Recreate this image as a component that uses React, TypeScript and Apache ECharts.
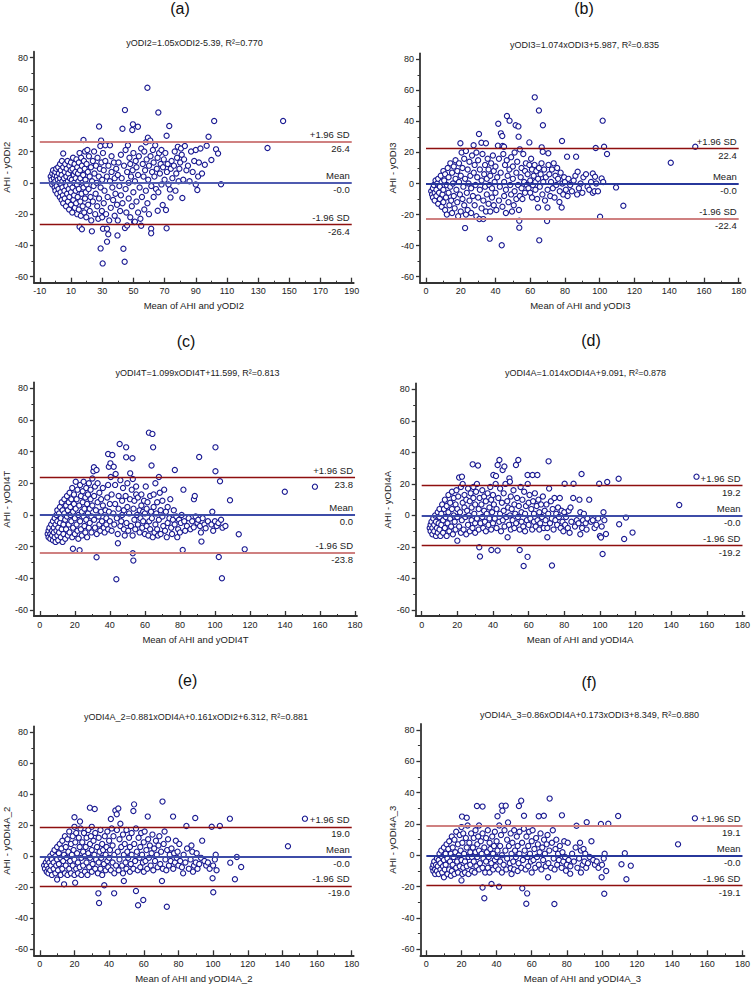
import React, { useEffect, useRef } from "react";
import * as echarts from "echarts";

// ---------------- DATA ----------------
const panelLetters = ["(a)", "(b)", "(c)", "(d)", "(e)", "(f)"];
const panelFormulas = [
  "yODI2=1.05xODI2-5.39, R²=0.770",
  "yODI3=1.074xODI3+5.987, R²=0.835",
  "yODI4T=1.099xODI4T+11.599, R²=0.813",
  "yODI4A=1.014xODI4A+9.091, R²=0.878",
  "yODI4A_2=0.881xODI4A+0.161xODI2+6.312, R²=0.881",
  "yODI4A_3=0.86xODI4A+0.173xODI3+8.349, R²=0.880",
];
const yAxisNames = ["AHI - yODI2", "AHI - yODI3", "AHI - yODI4T", "AHI - yODI4A", "AHI - yODI4A_2", "AHI - yODI4A_3"];
const xAxisNames = [
  "Mean of AHI and yODI2",
  "Mean of AHI and yODI3",
  "Mean of AHI and yODI4T",
  "Mean of AHI and yODI4A",
  "Mean of AHI and yODI4A_2",
  "Mean of AHI and yODI4A_3",
];
const meanDiffs = [-0.0, -0.0, 0.0, -0.0, -0.0, -0.0];
const meanLabels = ["-0.0", "-0.0", "0.0", "-0.0", "-0.0", "-0.0"];
const upperLimits = [26.4, 22.4, 23.8, 19.2, 19.0, 19.1];
const upperLabels = ["26.4", "22.4", "23.8", "19.2", "19.0", "19.1"];
const lowerLimits = [-26.4, -22.4, -23.8, -19.2, -19.0, -19.1];
const lowerLabels = ["-26.4", "-22.4", "-23.8", "-19.2", "-19.0", "-19.1"];

const xTicksA = [-10, 10, 30, 50, 70, 90, 110, 130, 150, 170, 190];
const xMinorA = [0, 20, 40, 60, 80, 100, 120, 140, 160, 180];
const xTicksB = [0, 20, 40, 60, 80, 100, 120, 140, 160, 180];
const xMinorB = [10, 30, 50, 70, 90, 110, 130, 150, 170];
const yTicks = [-60, -40, -20, 0, 20, 40, 60, 80];
const yMinor = [-50, -30, -10, 10, 30, 50, 70];

const pointsA = [
  [-3,4],[-2.5,2],[-2,6],[-2,-1],[-1.5,8],[-1,3],[-1,0],[-0.5,5],[-0.5,-3],[0,1],[0,7],[0,-5],
  [0.5,9],[0.8,-2],[1,4],[1.2,-7],[1.5,2],[1.8,10],[2,-4],[2.2,6],[2.5,0],[2.8,-9],[3,3],[3,12],[3.3,-6],[3.5,8],[3.8,-1],[4,-11],[4,5],[4.2,14],[4.5,-3],[4.5,1],[4.8,-8],[5,18.8],[5,10],[5,-13],
  [5.5,3],[5.8,-5],[6,7],[6,-10],[6.3,12],[6.5,0],[6.8,-15],[7,4],[7,-2],[7.2,9],[7.5,-7],[7.8,14],[8,-12],[8,1],[8.3,6],[8.5,-4],[8.8,-17],[9,11],[9,-9],[9.3,3],[9.5,-1],[9.8,8],[10,-14],[10,13],[10,-6],
  [10.5,2],[10.8,-19],[11,9],[11,-3],[11.3,16],[11.5,-11],[11.8,5],[12,-8],[12,0],[12.3,12],[12.5,-16],[12.8,7],[13,-5],[13,3],[13.3,-13],[13.5,15],[13.8,-1],[14,10],[14,-20],[14.3,-9],[14.5,6],[14.8,1],[15,-17],[15,13],[15,-4],
  [15.5,19],[15.5,-28],[15.8,8],[16,-12],[16,3],[16.3,-21],[16.5,16],[16.8,-7],[17,11],[17,-29.7],[17.3,0],[17.5,-15],[17.8,5],[18,-3],[18,27.4],[18.3,14],[18.5,-19],[18.8,9],[19,-10],[19,20],[19.3,2],[19.5,-6],[19.8,-22],[20,12],[20,-1],
  [20.5,21],[20.8,7],[21,-14],[21.3,-4],[21.5,17],[22,-18],[22,4],[22.5,-9],[22.8,10],[23,-24],[23.4,-31],[23.5,1],[24,14],[24,-12],[24.5,-2],[24.8,20],[25,6],[25.5,-20],[25.8,-7],[26,11],[26.5,0],[26.8,-15],[27,16],[27.5,-23],[27.8,4],[28,36],[28,-10],[28.5,9],[28.8,23.5],[29,-3],[29,-41.9],[29.3,27],[29.5,13],[29.8,-18],[30,-22],[30,2],[30.3,-51.5],[30.5,-29.3],[30.5,19],
  [31,8],[31,-13],[31.5,-5],[32,24],[32,14],[32.5,-20],[33,4],[33.1,-37.6],[33.1,-29.3],[33.5,-9],[33.9,-32.9],[34,11],[34.5,-24],[35,24],[35,1],[35.5,-16],[36,7],[36,17],[36.5,-3],[37,-11],[37.5,13],[38,-21],[38,3],[38.5,-7],[39,9],[39.5,-14],[39.8,-33.6],[40,5],[40,-24],
  [40.5,13],[41,-2],[41.5,-18],[42,18],[42,-8],[42.5,3],[43,34.6],[43,-13],[43.6,-42.1],[44,11],[44.4,-50.4],[44.6,-28.9],[44.6,46.5],[45,-4],[45,21],[45.5,-19],[46,-27.2],[46,7],[46.5,24],[47,0],[47,-10],[47.5,16],[48,-22],[48,12],[48.5,4],[49,-15],[49.3,33.8],[49.7,37.4],[49.5,8],[50,-6],[50,19],
  [50.5,-25],[51,-24.8],[51,1],[51.5,14],[52,-12],[52,10],[52.9,35.9],[53,-19],[53,5],[53.5,17],[54,-3],[54.5,-23],[55,22],[55,-27.4],[55.5,-9],[56,12],[56.5,4],[57,-17],[57,20],[57.5,8],[58,-5],[58,26],[58.5,15],[59,-13],[59.3,28.9],[59,60.8],[59.5,2],[60,11],[60,-20],[60.8,27],
  [61,17],[61.4,-29.3],[61.4,-32.3],[61.5,-2],[62,7],[62.5,21],[63,13],[63,-9],[63.5,4],[64,24],[64.5,-4],[65,9],[65.6,-17.8],[65.5,16],[66,45],[66,-6],[66.5,19],[67,6],[67.5,12],[68,-1],[68,21],[68.8,-14.2],[69,10],[69.5,15],[70,2],[70.5,19],[70.9,-17.4],[71.3,30.1],[71.3,-29.1],[71.5,7],[72,12],[72.5,-1],[73,36.3],[73.4,-4.2],[73.8,-9.3],[74,9],[74.5,14],[75,3],[76,11],[76.5,20],[77,-5],[77.5,6],[78,16],[78.5,23],[79,1],[79.5,9],[80,13],
  [80.5,22],[81,18],[81.4,-9.7],[82,2],[82.5,15],[83,23.5],[84,8],[85,11],[86,1],[87,20],[88,7],[89,14],[90,21],[90,-1],[91,-4.6],[91.5,4],[92,13],[93,22],[94,6],[95.8,11.6],[97,23.7],[98.2,29.5],[100,14.6],[101.8,39.5],[103,21.4],[104.3,18.8],[106.2,-0.9],
  [136,22.3],[146,39.5],
];

const pointsB = [
  [3,-5],[3.5,-7],[4,-3],[4,-9],[4.5,-1],[5,-6],[5,-11],[5.5,2],[6,-4],[6,-8],[6.5,0],[7,-13],[7,3],[7.5,-6],[8,-2],[8,-10],[8.5,5],[9,-15],[9,1],[9.5,-7],[10,8],[10,-4],[10,-12],
  [10.5,2],[11,-17],[11,6],[11.5,-9],[12,-1],[12,-20],[12.5,10],[13,-6],[13,4],[13.5,-14],[14,13],[14,-2],[14.5,-11],[15,7],[15,-19],[15.5,0],[16,-8],[16,11],[16.5,-16],[17,3],[17,15],[17.5,-4],[18,-12],[18,8],[18.5,-21],[19,1],[19,13],[19.5,-7],[19.8,25.9],[20,-18],[20,5],
  [20.5,20],[21,-10],[21,10],[21.5,-2],[22,16],[22,-14],[22.5,-28.7],[22.5,3],[23,-20],[23,21],[23.5,-6],[24,9],[24,-17],[24.5,0],[25,14],[25,-11],[25.5,5],[26,-3],[26,-19],[26.5,18],[27,-8],[27.4,24.6],[27.5,7],[28,-14],[28,12],[28.5,-1],[29,-21],[29,20],[29.5,4],[30,-9],[30,15],[30.5,31.9],[30.7,-22.9],
  [31,-4],[31,9],[31.9,26.3],[32,-16],[32,2],[32.5,19],[33,-22.9],[33,-11],[33.5,6],[34,-2],[34,12],[34.5,25.9],[34.5,-18],[35,-7],[35,3],[35.5,16],[36,-13],[36,9],[36.5,-1],[36.7,-35.5],[37,-18],[37,5],[37.5,13],[38,-9],[38,-3],[38.5,18],[39,-14],[39,8],[39.5,1],[40,-6],[40,11],
  [40.5,-17],[41,4],[41.4,24.4],[41.6,38.5],[42,-11],[42,16],[42.5,-2],[43,7],[43.1,32.3],[43.6,-39.8],[43.9,30.6],[44,-15],[44.1,24.2],[44.5,19],[44.9,23.7],[45,1],[45,-8],[45.5,12],[46,-4],[46,-19],[46.5,15],[46.6,43.5],[47,5],[47.5,-12],[48,9],[48.1,40.5],[48.5,-1],[49,-7],[49,17],[49.5,-18],[50,3],[50,11],
  [50.5,-14],[51,20],[51,-5],[51.6,37.5],[52,7],[52,-10],[52.5,14],[53,-1],[53.2,36.8],[53.3,30.2],[53.5,-17],[53.7,-23.9],[53.7,-28.4],[54,-8],[54,22],[54.5,4],[55,10],[55,-3],[55.5,-10],[56,19],[56.5,1],[57,-6],[57,8],[57.5,13],[58,-1],[58.5,6],[59,-3],[59.5,26.5],[59.5,12],[60,-6],[60,2],
  [60.5,16],[61,9],[61,-9],[61.5,-1],[62,5],[62.6,55.5],[62.5,12],[63,-4],[63,1],[63.5,8],[64,-10],[64.5,-15.4],[64.5,3],[65,47],[65,10],[65.2,-36.6],[65.5,-2],[66,6],[66.6,23.3],[66.5,13],[67,-7],[67.2,20.5],[67.3,37.5],[67.5,1],[68,9],[68.5,-11],[69,4],[69.7,-24.2],[69.9,-15.4],[70,-4],[70.4,19.5],[70.5,12],[71,6],[71.5,-8],[72,1],[72.5,9],[73,-3],[73.5,13],[74,-9],[74.5,5],[75,-1],[75.5,10],[76,3],[76.8,-11.9],[77,-5],[77.5,7],[78.1,-15.4],[78.3,27.4],[78.5,0],[79,-7],[79.5,4],[80,1],
  [80.5,-4],[81.2,17.3],[81.5,-8],[82,3],[83,-1],[84,-5],[85,2],[86,5],[86.4,17.3],[87,-7],[87.3,7.6],[88,-3],[89,0],[90,-6],[90.6,4],[92.1,6],[93,-2],[94,-4],[95,1],[96,6.5],[96,-6],[97,-5],[97.3,4.4],[97.7,22.9],[98,0],[99,-5],[100.2,-21.4],[101.1,3.3],[101.7,40.5],[102,1],[102.5,23.7],[104.2,19],[109.4,-2.5],[113.6,-14.3],[140.9,13.4],[155,23.7],
];

const pointsC = [
  [4.5,-12],[5,-10],[5,-14],[5.5,-8],[6,-12],[6,-15],[6.5,-6],[7,-10],[7,-13],[7.5,-4],[7.5,-16],[8,-8],[8,-11],[8.5,-2],[8.5,-14],[9,-6],[9,-17],[9.5,0],[9.5,-10],[10,-4],[10,-13],[10,3],
  [10.5,-8],[10.5,-16],[11,1],[11,-11],[11.5,-5],[11.5,5],[12,-14],[12,-2],[12.5,8],[12.5,-9],[13,3],[13,-17],[13.5,-6],[13.5,-12],[14,1],[14,10],[14.5,-3],[14.5,-15],[15,6],[15,-9],[15.5,12],[15.5,-1],[16,-13],[16,3],[16.5,8],[16.5,-6],[17,14],[17,-11],[17.5,0],[17.5,5],[18,-4],[18,10],[18.5,-14],[18.5,17],[19,2],[19,-8],[19.5,7],[19.5,13],[20,-2],[20,-12],[18.9,-21.3],
  [20.5,21],[20.5,4],[21,-6],[21,10],[21.5,-10],[21.5,16],[22,0],[22,-15],[22.7,-22.3],[22.5,6],[23,19],[23,-4],[23.5,12],[23.5,-9],[24,2],[24,-13],[24.5,8],[24.5,15],[25,-1],[25,21],[25.5,-7],[25.5,4],[26,11],[26,-11],[26.5,17],[26.5,-3],[27,7],[27,-14],[27.5,1],[27.5,13],[28,-8],[28,20],[28.5,4],[28.5,-5],[29,10],[29,16],[29.5,-1],[29.5,-11],[30,6],[30,23],[30.6,27.6],[30.9,30.1],
  [31,-3],[31,12],[31.5,-8],[31.5,18],[32,3],[32.4,28.4],[32.4,-26.7],[32.5,-12],[33,8],[33,20],[33.5,-1],[34,14],[34,-6],[34.5,-10],[35,2],[35,10],[35.5,-4],[36,6],[36,17],[36.5,-8],[37,-11],[37.5,3],[38,-2],[38.5,11],[38,-6],[39,-9],[39,19],[39,38.5],[39.4,30.5],[39.5,2],[40,7],[40,-4],[40.3,32.6],
  [40.5,24],[41,-10],[41,13],[41.4,37.9],[42,1],[42.2,30.5],[42.5,-6],[43,19],[43.3,25.9],[43,7],[43.7,-40.6],[44,-2],[44.6,-17.9],[44.5,-12],[45,4],[45,12],[45.6,44.8],[46,-7],[46,22],[46.5,-4],[47,9],[47,0],[47.5,17],[48,-9],[48,3],[48.5,-13],[49,12],[49.3,42.7],[49.3,36.4],[49.5,-5],[50,5],[50,20],[50.5,-10],[51,1],[51.6,26.3],[51.5,10],[52,-7],[52.5,16],[52.9,35.8],[53.1,22.7],[53.1,-24.2],[53.4,-28.8],[53,-13],[53.5,4],[54,-3],[54,9],[54.5,-9],[55,18],[55,13],[55.5,0],[56,-6],[56,11],[57,-11],[57,3],[57.5,-2],[58,6],[58,13],[58.5,-8],[59,-4],[59,2],[59.5,9],[60,-12],[60,1],
  [60.5,18],[61,-7],[61,4],[61.5,8],[62,-13],[62.3,52],[62.5,-4],[63,12],[63,-9],[63.5,2],[63.8,31.2],[64,-2],[64.3,51.2],[64.7,42.7],[64.5,-14],[65,5],[65,13],[65.5,-11],[66,-6],[66,20],[66.5,1],[67,-9],[67,8],[67.5,-13],[68,-3],[68,24],[68.5,14],[69,-12],[69,3],[70,-1],[70,9],[70.5,-7],[71,16],[71.5,-10],[72,2],[72.5,-14],[73,5],[73,-5],[74,-2],[74.5,10],[75,-8],[75.5,-12],[76,-3],[76.5,3],[77.1,28.4],[77,-6],[78,-1],[78.5,-14],[79,-9],[79.5,-3],[80,-11],
  [80.5,-5],[81,0],[81.6,-22.1],[82,16],[82.5,-4],[83,-10],[84,-7],[85,-2],[86,-9],[87,-4],[87.9,-7.8],[88,10],[88.5,12],[89,-1],[90,-5],[90.5,-3],[91,36.6],[91.5,-7],[92.3,-16.8],[92,-11],[93,-2],[94,-6],[94.7,-8.4],[96,-4],[98,-6],[98.5,2],[99,-10],[100,-4],[100.3,42.7],[100.3,27.6],[101,-7],[102,-5],[102.2,-26.5],[102.9,21.3],[103.5,-3],[104.3,-8],[104,-40],[106,-7],[108.6,9.3],[113.6,-12.2],[117,-21.7],[139.9,14.7],[157.1,17.9],
];

const pointsD = [
  [4.5,-8],[5,-6],[5,-10],[5.5,-4],[6,-8],[6,-12],[6.5,-2],[7,-6],[7,-10],[7.5,0],[8,-4],[8,-13],[8.5,-8],[9,2],[9,-11],[9.5,-5],[10,-1],[10,-9],[10,4],
  [10.5,-13],[11,1],[11,-6],[11.5,7],[12,-3],[12,-11],[12.5,4],[13,-8],[13,10],[13.5,-1],[14,-13],[14,6],[14.5,-5],[15,2],[15,13],[15.5,-10],[16,-2],[16,8],[16.5,-7],[17,15],[17,4],[17.5,-12],[18,0],[18,11],[18.5,-4],[19,7],[19,-9],[19.5,16],[20,-1],[20,-16],[20,4],
  [20.5,12],[21,-7],[21,24],[21.5,2],[22,-11],[22.6,24.6],[22,18],[22.5,-3],[23,8],[23,20],[23.5,-9],[24,5],[24,13],[24.5,-1],[25,-12],[25,10],[25.5,3],[26,-6],[26,17],[26.5,0],[27,9],[27,-10],[27.5,14],[28,-3],[28,5],[28.6,32.4],[28.5,-8],[29,18],[29,11],[29.5,1],[30,-5],[30,7],[30,-11],
  [30.5,15],[31,-2],[31,20],[31.6,31.7],[32,4],[32,-9],[32.3,-20.2],[32.7,-26.1],[32.5,11],[33,-5],[33.5,7],[34,16],[34,-1],[34.5,-8],[35,3],[35,12],[35.5,-4],[36,9],[36,-10],[36.5,1],[37,14],[37.5,-6],[38,5],[38,-2],[38.5,18],[39,-9],[39,10],[39.1,-21.9],[39.5,2],[40,-5],[40,13],[40.2,25.6],
  [40.5,7],[41,-2],[41.7,25],[41.5,20],[42,-8],[42,4],[42.6,32],[42.6,-22.3],[43,11],[43.6,35.2],[43.5,-4],[44,17],[44,1],[44.5,-10],[45,8],[45.4,28.8],[45.5,-3],[46,14],[46.4,31],[46,3],[46.5,-7],[47,20],[47.5,-1],[48,9],[48.2,-13.9],[48.5,5],[49,-6],[49.2,23.5],[49.5,21.4],[49.5,0],[50,12],[50,-9],[50.5,4],[51,-3],[51.5,16],[52,7],[52,-8],[52.9,32],[52.5,1],[53,-5],[53.5,11],[54,-1],[54.2,35.2],[54.5,6],[55,-21.9],[55,-9],[55.5,18],[56,2],[56,-4],[56.5,10],[57,-7],[57.2,-32.1],[57.5,15],[58,1],[58,-10],[58.5,6],[59,-3],[59.4,25.6],[59.4,-26.3],[59.5,20],[60,-6],[60,8],
  [60.5,13],[61,-2],[61.5,4],[62,-9],[62.2,25.6],[62.5,9],[63,-4],[63,1],[63.5,14],[64,-7],[64.5,6],[64.9,25.6],[65,-3],[65.5,10],[66,-9],[66,2],[66.5,-5],[67,7],[67.5,-1],[68,12],[68.5,-8],[69,3],[69.5,-3],[70,7],[70.5,-13.9],[70.5,-8],[71,1],[71.2,34.3],[71.5,17],[72,-5],[72.5,9],[73,-2],[73.1,-31.8],[73.5,4],[74,-9],[74.5,11],[75,-3],[75.5,1],[76,-6],[76.5,5],[77,-1],[77.5,11],[78,-8],[78.5,3],[79,-4],[79.5,-10],[80,2],
  [80.2,20.1],[80.5,-6],[81,-1],[82,-8],[82.5,3],[83,-11],[83.5,5],[84,-4],[85,11],[85.2,20.1],[86,-7],[87,-3],[88,-5],[88.5,10],[89,-12],[89,2],[89.7,26.3],[90,-8],[90.5,-3],[91,1],[92,-5],[92.5,-9],[93,-2],[94,10],[95,-4],[96,-3],[97,-8],[98,-6],[99,-2],[99.6,20.1],[100,-13],[100.6,-14],[101,-7],[101.5,-24.5],[102,2],[102.5,-3],[103.4,-11.8],[104.1,21.2],[110.5,23.3],[110.8,-5.6],[113.6,-15],[114.6,-1.4],[118.3,-10.9],[144.5,6.6],[154.2,24.6],
];

const pointsE = [
  [2.5,-6],[3,-8],[3.5,-4],[4,-10],[4,-6],[4.5,-2],[5,-8],[5,-11],[5.5,-4],[6,0],[6,-9],[6.5,-6],[7,-12],[7,-2],[7.5,2],[8,-8],[8,-4],[8.5,4],[9,-11],[9,0],[9.5,-6],[10,-15],[10,6],[10,-2],
  [10.5,-9],[11,2],[11,-5],[11.5,8],[12,-12],[12,-1],[12.5,5],[13,-8],[13,10],[13.5,-3],[14,-18.1],[14,1],[14.5,-11],[14.5,13],[15,6],[15,-6],[15.5,-1],[16,11],[16,-12],[16.5,3],[17,-8],[17,16],[17.5,-3],[18,8],[18,-11],[18.5,1],[19,13],[19,-6],[19.5,4],[20,-2],[20,-12],[20,19],[20,25.2],[20.4,-17],
  [20.5,9],[21,-8],[21,15],[21.5,2],[22,-4],[22,-11],[22.5,12],[23,6],[23.2,22.4],[23,-7],[23.5,18],[24,-1],[24,-12],[24.5,9],[25,3],[25,-6],[25.5,15],[26,-10],[26,0],[26.5,6],[27,12],[27,-4],[27.5,-12],[28,2],[28,17],[28.5,-7],[28.9,31.4],[29,8],[29,-1],[29.5,13],[30,-10],[30,4],[30,19],
  [30.5,-5],[31,10],[31.7,30.5],[31.5,1],[32,-8],[32,15],[32.5,-2],[33,6],[33.8,-23.9],[34.2,-30.1],[33.5,-11],[34,12],[34,-4],[34.5,3],[35,-8],[35,17],[35.5,-1],[36,8],[36,-12],[36.5,4],[37,-5],[37.2,-18.7],[37.5,13],[38,-9],[38,1],[38.5,6],[39,-3],[39,16],[39.5,-7],[40,10],[40,-1],
  [40.5,4],[41,24.1],[41,-9],[41.5,18],[42,-4],[42,7],[42.9,-23.9],[42.5,13],[43,-11],[43.6,29.5],[43,1],[44,-6],[44.4,27.1],[44.5,17],[45,3],[45.3,30.8],[45.5,-9],[46,11],[46,-2],[46.5,21],[47,6],[47.5,-6],[48,14],[48,-11],[48.5,-15.9],[48.5,1],[49,8],[49.5,-4],[50,17],[50,-8],[50.5,3],[51,-1],[51.5,12],[52,-10],[52,6],[52.5,-5],[53,15],[53,1],[54,29.2],[54.4,33.5],[54,-8],[54.5,8],[55,-3],[55.5,-22.4],[55.5,18],[56,3],[56.7,-31.6],[56.5,-9],[57,12],[57.5,-1],[58,6],[58,-7],[58.5,15],[59,1],[59.7,-28.2],[59.5,-4],[60,9],[60,-10],
  [60.5,16],[61,-3],[61.5,4],[62,-8],[62.3,25.6],[62.5,11],[63,-1],[63.5,7],[64,-6],[64.5,2],[65,14],[65.5,-9],[66,5],[66.5,-3],[67,10],[67.5,1],[68,-7],[68.5,7],[69,13],[69.5,-5],[70,3],[70.5,-15.9],[70.8,35.3],[71,-8],[71.5,8],[72,16],[72.5,-2],[73,-9],[73.3,-32.5],[73.5,4],[74,11],[74.5,-6],[75,1],[75.5,-3],[76,5],[76.9,25.6],[77,-8],[77.5,2],[78,-4],[78.5,10],[79,-1],[79.5,3],[80,-6],
  [80.5,8],[81,-3],[82,-7],[82.7,-11],[83,1],[84,-4],[84.6,19.6],[85,5],[86,-8],[87,-2],[87.5,7],[88.4,-9.9],[88,3],[89,-6],[89.7,24.7],[90,-4],[90.5,2],[91,-8],[92,-5],[93,-1],[93.7,10.1],[95,-3],[96,-6],[97,-4],[98,-8],[99.2,19.1],[99.7,-14.2],[100,-6],[100.1,-23.2],[101,-2],[101.5,1],[102,-9],[103.9,19.6],[109.7,24.3],[109.9,-4.1],[112.6,-14.8],[113.7,-0.4],[116.2,-6.9],[143.2,6.5],[153,24.3],
];

const pointsF = [
  [3.5,-8],[4,-6],[4,-10],[4.5,-4],[5,-9],[5,-12],[5.5,-6],[6,-2],[6,-10],[6.5,-7],[7,-12],[7,-3],[7.5,1],[8,-9],[8,-5],[8.5,3],[9,-11],[9,-1],[9.5,-7],[10,-14],[10,5],[10,-3],
  [10.5,-9],[11,1],[11,-6],[11.5,7],[12,-12],[12,-2],[12.5,4],[13,-9],[13,9],[13.5,-4],[14,-13],[14,1],[14.5,-10],[14.5,12],[15,5],[15,-6],[15.5,-1],[16,10],[16,-12],[16.5,2],[17,-8],[17,15],[17.5,-4],[18,7],[18,-11],[18.5,0],[19,13],[19,-7],[19.5,3],[20,-3],[20,-16],[20,18],[20.3,24.7],[20.5,-12],
  [20.5,8],[21,-8],[21,14],[21.5,1],[22,-4],[22,-11],[22.5,11],[23,24],[23,5],[23,-7],[23.5,19],[24,-1],[24,-12],[24.5,8],[25,2],[25,-6],[25.5,14],[26,-10],[26,-1],[26.5,5],[27,11],[27,-4],[27.5,-11],[28,2],[28,16],[28.5,-7],[28.8,31.5],[29,7],[29,-1],[29.5,12],[30,-9],[30,3],[30,19],
  [30.5,-5],[31,9],[32,31.1],[31.5,1],[32,-20.6],[32,-8],[32,14],[32.5,-2],[33,-27.4],[33,5],[33.5,-11],[34,11],[34,-4],[34.5,2],[35,-8],[35,16],[35.5,-1],[36,8],[36,-11],[36.5,4],[37,-5],[37.1,-18.3],[37.5,12],[38,-9],[38,1],[38.5,6],[39,-3],[39,15],[39.5,-7],[40,9],[40,-1],[40.5,24.9],
  [40.5,3],[41,-9],[41.4,-20],[41.5,19],[42,-4],[42,6],[42.5,13],[42.9,31.7],[43,-11],[43.3,28.5],[43,0],[44,-6],[44.5,16],[45,3],[45.2,31.7],[45.5,-9],[46,10],[46,-2],[46.5,21],[47,6],[47.5,-5],[48,-8.3],[48,14],[48.5,-12],[48.5,1],[49,8],[49.5,-4],[50,16],[50,-9],[50.5,3],[51,-1],[51.5,12],[52,-10],[52,6],[52.7,31.5],[52.5,-5],[53,15],[53,1],[54,34.9],[54,-8],[54.6,-21.1],[54.5,8],[55,-3],[55.6,25.3],[55.5,17],[56,3],[56.9,-30.9],[57.4,-24.3],[56.5,-9],[57,12],[57.5,-1],[58,6],[58,-7],[58.5,15],[59,1],[59.5,-4],[60,9],[60,-11],
  [60.5,16],[61,-3],[61.5,4],[62,-8],[62.5,11],[63,-1],[63.5,7],[64,24.9],[64,-6],[64.5,2],[65,14],[65.5,-9],[66,5],[66.9,25.3],[66.5,-3],[67,10],[67.5,1],[68,-7],[68.5,7],[69,13],[69.3,-14],[69.5,-5],[70,3],[70.2,36.2],[71,-8],[71.5,8],[72,16],[72.5,-2],[72.9,-31.1],[73,-9],[73.5,4],[74,10],[74.5,-6],[75,1],[75.5,-3],[76,6],[77.2,25.5],[77,-8],[77.5,2],[78,-4],[78.5,9],[79,-1],[79.5,-9.8],[80,-6],
  [80.5,8],[81,-3],[81.9,-11.7],[82,-7],[83,1],[84,-4],[85.5,18.9],[85,5],[86,-8],[87,-2],[87.5,8],[88,-11],[88,3],[89,-6],[89.5,4],[90,-4],[90.5,1],[91.3,21.1],[91,-8],[92,-5],[93,-1],[94,9],[95,-3],[96,-6],[97,-4],[98,-8],[99.4,20],[99.8,-14],[100,-6],[101.3,-24.5],[101,-2],[101.5,1],[102.4,-10],[103.6,20.2],[109.2,25.1],[111.1,-5.7],[113,1.3],[113.9,-15.3],[116.4,-6.6],[143.3,7],[152.9,23.6],
];

const panelPoints = [pointsA, pointsB, pointsC, pointsD, pointsE, pointsF];
const panelXTicks = [xTicksA, xTicksB, xTicksB, xTicksB, xTicksB, xTicksB];
const panelXMinor = [xMinorA, xMinorB, xMinorB, xMinorB, xMinorB, xMinorB];

// ---------------- LAYOUT / STYLE ----------------
const DARK = "#8e0f0f";
const PINK = "#cf8080";
const FONT = "'Liberation Sans', Arial, Helvetica, sans-serif";
const layouts = [
  { x0: 34.3, x1: 351.7, yTop: 57.7, yBot: 276.7, lx: 180, ly: 8, tx: 194.5, ty: 43, up: PINK, lo: DARK, mean: "#4f5bb0" },
  { x0: 426, x1: 738.7, yTop: 59.3, yBot: 276.7, lx: 584, ly: 8, tx: 584.5, ty: 45, up: DARK, lo: PINK, mean: "#27379b" },
  { x0: 35, x1: 355, yTop: 388.3, yBot: 610, lx: 186, ly: 341, tx: 197.5, ty: 373.3, up: DARK, lo: PINK, mean: "#3d4ca8" },
  { x0: 421.7, x1: 742.7, yTop: 389.3, yBot: 610, lx: 591, ly: 340, tx: 585.5, ty: 373, up: DARK, lo: DARK, mean: "#3d4ca8" },
  { x0: 34, x1: 351.7, yTop: 732.3, yBot: 949.3, lx: 187.5, ly: 680, tx: 196, ty: 717.3, up: DARK, lo: DARK, mean: "#3d4ca8" },
  { x0: 426.4, x1: 745, yTop: 730, yBot: 949.3, lx: 589, ly: 682, tx: 589.5, ty: 715, up: PINK, lo: DARK, mean: "#27379b" },
];

function buildOption() {
  const grid: any[] = [];
  const xAxis: any[] = [];
  const yAxis: any[] = [];
  const series: any[] = [];
  const graphic: any[] = [];
  const AX = "#333";

  layouts.forEach((L, i) => {
    const ticks = panelXTicks[i];
    const xs = ticks[0];
    const xe = ticks[ticks.length - 1];
    const ppuX = (L.x1 - L.x0) / (xe - xs);
    const ppuY = (L.yBot - L.yTop) / 140;
    const left = L.x0 - 6;
    const right = L.x1 + 2;
    const top = L.yTop - 6;
    const bottom = L.yBot + 6;
    grid.push({ left, top, width: right - left, height: bottom - top, containLabel: false });
    const xMin = xs - 6 / ppuX;
    const xMax = xe + 2 / ppuX;
    const yMin = -60 - 6 / ppuY;
    const yMax = 80 + 6 / ppuY;

    xAxis.push({
      type: "value", gridIndex: i, position: "bottom", min: xMin, max: xMax,
      axisLine: { show: true, onZero: false, lineStyle: { color: AX, width: 1.8 } },
      axisTick: { show: true, inside: true, length: 5, customValues: ticks, lineStyle: { color: AX, width: 1.3 } },
      axisLabel: { show: true, customValues: ticks, fontSize: 9, color: "#222", fontFamily: FONT, margin: 4 },
      splitLine: { show: false },
      name: xAxisNames[i], nameLocation: "middle", nameGap: 18,
      nameTextStyle: { fontSize: 9.5, color: "#222", fontFamily: FONT },
    });
    xAxis.push({
      type: "value", gridIndex: i, position: "bottom", min: xMin, max: xMax,
      axisLine: { show: false, onZero: false },
      axisTick: { show: true, inside: true, length: 2, customValues: panelXMinor[i], lineStyle: { color: AX, width: 1 } },
      axisLabel: { show: false },
      splitLine: { show: false },
    });
    yAxis.push({
      type: "value", gridIndex: i, position: "left", min: yMin, max: yMax,
      axisLine: { show: true, onZero: false, lineStyle: { color: AX, width: 1.8 } },
      axisTick: { show: true, inside: false, length: 4, customValues: yTicks, lineStyle: { color: AX, width: 1.3 } },
      axisLabel: { show: true, customValues: yTicks, fontSize: 9, color: "#222", fontFamily: FONT, margin: 6 },
      splitLine: { show: false },
      name: yAxisNames[i], nameLocation: "middle", nameGap: 20, nameRotate: 90,
      nameTextStyle: { fontSize: 9.5, color: "#222", fontFamily: FONT },
    });
    yAxis.push({
      type: "value", gridIndex: i, position: "left", min: yMin, max: yMax,
      axisLine: { show: false, onZero: false },
      axisTick: { show: true, inside: false, length: 2.5, customValues: yMinor, lineStyle: { color: AX, width: 1 } },
      axisLabel: { show: false },
      splitLine: { show: false },
    });

    const lab = (text: string, pos: string) => ({
      show: true, position: pos, formatter: text, fontSize: 9.5, color: "#222", fontFamily: FONT, distance: 2,
    });
    const line = (v: number, color: string, width: number, topText: string, botText: string) => [
      [
        { coord: [xs, v], lineStyle: { color, width, type: "solid" }, label: lab(topText, "insideEndTop") },
        { coord: [xe, v] },
      ],
      [
        { coord: [xs, v], lineStyle: { color: "rgba(0,0,0,0)", width: 1, type: "solid" }, label: lab(botText, "insideEndBottom") },
        { coord: [xe, v] },
      ],
    ];
    const w = (c: string) => (c === PINK ? 2 : 1.3);
    series.push({
      type: "scatter",
      xAxisIndex: 2 * i,
      yAxisIndex: 2 * i,
      data: panelPoints[i],
      symbol: "circle",
      symbolSize: 5.2,
      itemStyle: { color: "#ffffff", borderColor: "#1a1a92", borderWidth: 1.15, opacity: 1 },
      markLine: {
        silent: true,
        symbol: ["none", "none"],
        animation: false,
        data: [
          ...line(upperLimits[i], L.up, w(L.up), "+1.96 SD", upperLabels[i]),
          ...line(meanDiffs[i], L.mean, 2.2, "Mean", meanLabels[i]),
          ...line(lowerLimits[i], L.lo, w(L.lo), "-1.96 SD", lowerLabels[i]),
        ],
      },
    });

    graphic.push({
      type: "text", x: L.lx, y: L.ly,
      style: { text: panelLetters[i], font: `16px ${FONT}`, fill: "#111", textAlign: "center", textVerticalAlign: "middle", align: "center", verticalAlign: "middle" },
    });
    graphic.push({
      type: "text", x: L.tx, y: L.ty,
      style: { text: panelFormulas[i], font: `9px ${FONT}`, fill: "#222", textAlign: "center", textVerticalAlign: "middle", align: "center", verticalAlign: "middle" },
    });
  });

  return {
    animation: false,
    backgroundColor: "#ffffff",
    textStyle: { fontFamily: FONT },
    grid,
    xAxis,
    yAxis,
    series,
    graphic,
  };
}

export default function App() {
  const ref = useRef<HTMLDivElement>(null);
  useEffect(() => {
    if (!ref.current) return;
    const chart = echarts.init(ref.current, undefined, { renderer: "svg" });
    chart.setOption(buildOption() as any);
    return () => chart.dispose();
  }, []);
  return (
    <div
      ref={ref}
      style={{ position: "absolute", left: 0, top: 0, width: 753, height: 989, background: "#fff" }}
    />
  );
}
